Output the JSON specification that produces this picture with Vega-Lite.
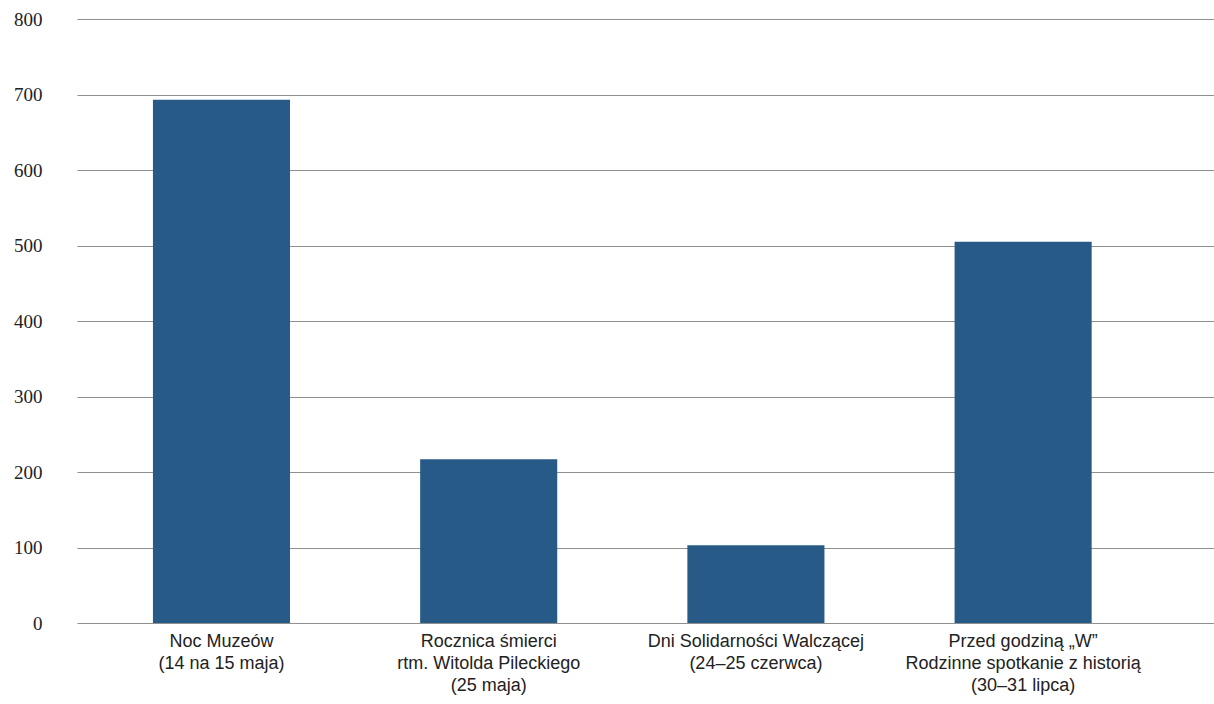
{
  "$schema": "https://vega.github.io/schema/vega-lite/v6.json",
  "width": 1137,
  "height": 604,
  "autosize": {"type": "none"},
  "padding": {"left": 77, "top": 19, "right": 0, "bottom": 81},
  "background": "white",
  "config": {"view": {"stroke": null}},
  "data": {
    "values": [
      {"event": "Noc Muzeów|(14 na 15 maja)", "order": 1, "value": 693},
      {"event": "Rocznica śmierci|rtm. Witolda Pileckiego|(25 maja)", "order": 2, "value": 217},
      {"event": "Dni Solidarności Walczącej|(24–25 czerwca)", "order": 3, "value": 103},
      {"event": "Przed godziną „W”|Rodzinne spotkanie z historią|(30–31 lipca)", "order": 4, "value": 505}
    ]
  },
  "mark": {"type": "bar", "color": "#275a87"},
  "encoding": {
    "x": {
      "field": "event",
      "type": "nominal",
      "sort": {"field": "order"},
      "scale": {"paddingInner": 0.487, "paddingOuter": 0.371, "align": 0.383},
      "axis": {
        "title": null,
        "labelAngle": 0,
        "labelExpr": "split(datum.value, '|')",
        "labelFont": "Liberation Sans Narrow, Liberation Sans, sans-serif",
        "labelFontSize": 18,
        "labelLineHeight": 22,
        "labelLimit": 0,
        "labelColor": "#222222",
        "labelPadding": 9,
        "ticks": false,
        "domain": false
      }
    },
    "y": {
      "field": "value",
      "type": "quantitative",
      "scale": {"domain": [0, 800]},
      "axis": {
        "title": null,
        "values": [0, 100, 200, 300, 400, 500, 600, 700, 800],
        "labelFont": "Liberation Serif, DejaVu Serif, serif",
        "labelFontSize": 19,
        "labelColor": "#222222",
        "labelPadding": 35,
        "ticks": false,
        "domain": false,
        "grid": true,
        "gridColor": "#8f8f8f",
        "gridWidth": 1.2,
        "zindex": 0
      }
    }
  }
}
